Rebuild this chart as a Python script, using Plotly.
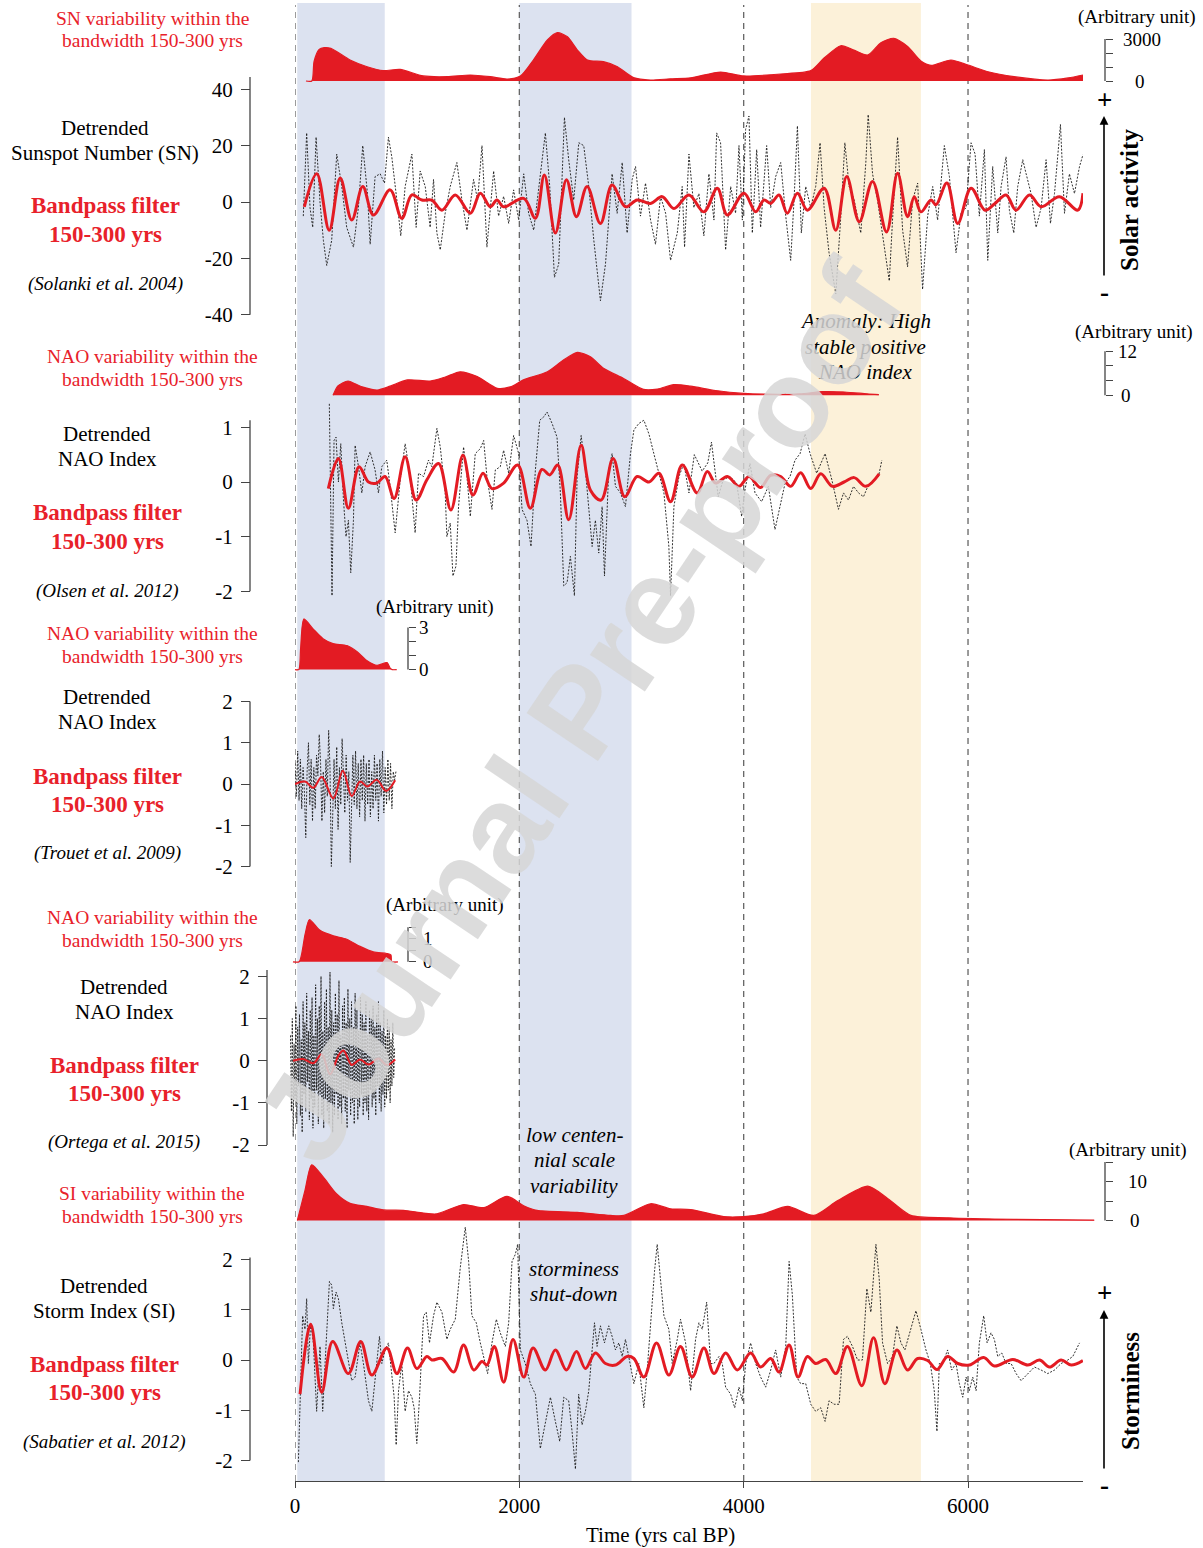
import plotly.graph_objects as go

# ---------------------------------------------------------------------------
# Data (years cal BP / values)
# ---------------------------------------------------------------------------

# Sunspot number: power within the 150-300 yr band (arbitrary units)
sn_var_years = [98, 150, 170, 215, 260, 320, 491, 643, 786, 937, 1143, 1357, 1563, 1741, 1893,
                2009, 2125, 2250, 2339, 2429, 2518, 2607, 2750, 2875, 3018, 3170, 3348, 3527,
                3795, 4000, 4330, 4598, 4714, 4866, 4982, 5107, 5223, 5339, 5464, 5580, 5670,
                5848, 6000, 6179, 6411, 6714, 6893, 7025]
sn_var = [0, 0, 1400, 2250, 2380, 2330, 1500, 1020, 740, 830, 360, 310, 430, 310, 140,
          360, 1500, 2930, 3450, 3160, 2210, 1500, 1380, 1020, 240, 70, 160, 230,
          640, 360, 500, 740, 1620, 2520, 2210, 1860, 2740, 3050, 2450, 1430, 1120,
          1500, 1140, 660, 310, 70, 220, 430]

# Detrended sunspot number (Solanki et al. 2004)
sn_years = [74, 104, 134, 158, 188, 223, 253, 283, 327, 372, 417, 461, 521, 565, 604, 646, 670,
            714, 759, 798, 833, 863, 908, 943, 982, 1042, 1080, 1116, 1161, 1205, 1235, 1265,
            1295, 1339, 1384, 1443, 1488, 1533, 1592, 1628, 1667, 1711, 1771, 1815, 1860, 1905,
            1949, 1994, 2039, 2083, 2128, 2173, 2232, 2271, 2313, 2351, 2402, 2440, 2485, 2530,
            2574, 2619, 2664, 2723, 2768, 2827, 2872, 2917, 2961, 3006, 3036, 3080, 3125, 3170,
            3214, 3259, 3304, 3348, 3408, 3452, 3473, 3512, 3556, 3601, 3645, 3690, 3735, 3759,
            3794, 3839, 3884, 3928, 3958, 3988, 4017, 4047, 4077, 4116, 4151, 4205, 4241, 4285,
            4330, 4375, 4419, 4449, 4479, 4514, 4553, 4598, 4642, 4681, 4717, 4761, 4821, 4866,
            4902, 4940, 4985, 5044, 5089, 5110, 5149, 5193, 5238, 5298, 5327, 5372, 5417, 5461,
            5506, 5551, 5595, 5640, 5685, 5729, 5789, 5834, 5893, 5938, 5983, 6027, 6063, 6101,
            6146, 6176, 6220, 6265, 6295, 6339, 6369, 6408, 6443, 6488, 6518, 6562, 6607, 6652,
            6696, 6735, 6771, 6824, 6860, 6904, 6949, 6994, 7025]
sn_values = [-5, 24.5, -2, -9, 23, 0, -13.6, -22.5, -13.6, 17, 5.5, -9, -16, -2, 20, 3, -15,
             9, 10, 6.7, 23, 16, 0.7, -12, 5.5, 17, -9, 11, 5.5, -9, 8, -11,
             -17, -4, 5.5, 14, 0.7, -10, 8, 0.7, 20, -16, 11, -5, 2, -7.6,
             4.3, -6.4, 10, -4, -10, 5.5, 24.5, 5.5, -26.7, -22, 30, 15, 0.7, 21,
             20, 5.5, -13.6, -35, -22, 10, -4, 14, -11, 8, 12.6, -5, 6.7, -6.4,
             -15, 2, -4, -20.7, -11, 5.5, -16, 17, -2, 3, -12, 10, -6.4, 24.5,
             21, -17, 5.5, -4, 20, -6.4, 25.7, 30.5, -11, 18.6, -9, 20, -2, 9,
             14, -5, -20.7, 0.7, 27, -11, 5.5, -2, 5.5, 21, -2, -18, -32.6, -5,
             21, 5.5, 0.7, -11, 14, 31, 10, 0.7, -12, -28, -6.4, 23, -10, -23,
             0.7, 6.7, -31, -5, 5.5, -6.4, 20, 9, -18, -4, -2, 21, 17, -5,
             18.6, -20.7, 12.6, -11, 5.5, 16, -3, -11, 5.5, 15, 10, 3, -9, -2,
             15, -7.6, 3, 27.5, -4, 10, 3, 12.6, 16.8]

# Sunspot number, 150-300 yr bandpass
sn_bp_years = [83, 194, 305, 403, 506, 604, 699, 848, 952, 1042, 1131, 1220, 1310, 1429, 1563,
               1652, 1741, 1800, 1860, 2039, 2143, 2223, 2321, 2420, 2509, 2604, 2723, 2827,
               2946, 3050, 3170, 3274, 3378, 3512, 3645, 3765, 3854, 4003, 4107, 4181, 4241,
               4315, 4389, 4479, 4568, 4717, 4821, 4919, 5030, 5149, 5274, 5372, 5461, 5521,
               5580, 5670, 5714, 5812, 5908, 6027, 6152, 6235, 6339, 6428, 6548, 6652, 6815,
               6979, 7025]
sn_bp = [-1.7, 10, -10, 8.5, -6.4, 5.5, -4.6, 4.3, -5.8, 2.5, 0.7, 0.7, -2.9, 2.5, -4,
         3.1, -1.7, 0.7, -1.7, 1.3, -5.8, 9.6, -11, 7.9, -5.2, 5.5, -7.6, 6,
         -1.7, 0.7, -0.5, 1.9, -2.3, 2.5, -3.5, 4.9, -4.6, 3.1, -3.5, 0.7, -0.5,
         2.5, -4, 3.1, -2.9, 4.9, -10, 9, -7, 7.3, -10.6, 10.2, -5.2, 1.9,
         -3.5, 0.7, -1, 6.7, -7.6, 4.9, -2.9, -0.7, 2.5, -2.9, 2.5, -1.7, 1.9,
         -2.9, 3.1]

# NAO (Olsen et al. 2012): band power, detrended index, bandpass
olsen_var_years = [339, 380, 420, 473, 598, 732, 848, 1000, 1205, 1340, 1473, 1625, 1804, 1920,
                   2036, 2250, 2393, 2518, 2634, 2750, 2929, 3107, 3232, 3375, 3527, 3750, 4000,
                   4200, 4500, 4700, 4900, 5100, 5205]
olsen_var = [0, 2.5, 3.3, 3.9, 2.3, 1.45, 2.5, 4.2, 3.9, 5.0, 6.4, 5.1, 1.9, 2.3,
             4.2, 6.4, 9.6, 11.7, 10.5, 7.4, 4.6, 1.6, 1.7, 2.9, 2.5, 1.3, 0.5,
             0.3, 0.4, 1.0, 0.9, 0.4, 0.2]

olsen_years = [306, 318, 330, 348, 366, 387, 408, 432, 455, 476, 497, 521, 536, 566, 596, 625,
               670, 714, 744, 774, 818, 848, 893, 938, 982, 1027, 1071, 1101, 1146, 1190, 1220,
               1265, 1295, 1339, 1354, 1384, 1408, 1435, 1458, 1503, 1533, 1563, 1607, 1652,
               1682, 1711, 1756, 1786, 1830, 1860, 1905, 1949, 1994, 2024, 2068, 2104, 2143,
               2182, 2217, 2247, 2292, 2336, 2366, 2396, 2426, 2455, 2491, 2515, 2551, 2589,
               2619, 2649, 2678, 2708, 2738, 2759, 2797, 2827, 2857, 2902, 2946, 2991, 3021,
               3065, 3110, 3155, 3199, 3244, 3289, 3333, 3348, 3378, 3423, 3467, 3512, 3560,
               3630, 3680, 3713, 3773, 3817, 3877, 3937, 3982, 4011, 4056, 4101, 4160, 4220,
               4279, 4324, 4369, 4413, 4458, 4503, 4547, 4592, 4651, 4726, 4786, 4845, 4890,
               4934, 4979, 5024, 5068, 5113, 5158, 5202, 5232]
olsen_values = [1.43, -0.7, -2.08, 0.76, 0.82, 0, 0.7, -0.33, -1.0, -0.7, -1.66, -0.7, 0.67,
                0.28, -0.2, 0.28, 0.55, 0.22, -0.2, 0.28, 0.4, -0.08, -0.93, 0.04, 0.7, 0.1,
                -0.93, 0.16, 0.1, 0.4, 0.28, 0.98, 0.64, -0.2, -1.0, -0.75, -1.72, -1.54,
                -0.45, 0.64, 0.1, -0.63, 0.52, 0.61, 0.76, 0.1, -0.5, 0.22, 0.28, 0.58, 0.16,
                0.85, 0.52, -0.5, -0.7, -1.18, 0.22, 1.13, 1.19, 1.28, 1.07, 0.82, -0.2, -1.9,
                -1.84, -1.36, -2.08, 0.1, 0.85, 0.22, -0.45, -1.18, -0.7, -1.3, -0.45, -1.72,
                0.22, 0.52, -0.08, -0.2, -0.45, 0.52, 0.95, 1.07, 1.13, 0.88, 0.52, 0.16, -0.2,
                -1.18, -2.08, -0.45, 0.1, 0.34, -0.2, 0.5, 0.2, 0.35, 0.73, -0.27, 0.04, 0.1,
                -0.02, -0.63, -0.15, 0.34, -0.2, -0.36, -0.08, -0.87, -0.45, -0.02, 0.1, 0.4,
                0.52, 0.88, 0.52, 0.16, 0.52, 0.04, -0.5, -0.2, -0.33, -0.08, -0.2, -0.27,
                -0.05, 0.04, 0.1, 0.4]

olsen_bp_years = [297, 387, 476, 571, 655, 729, 803, 884, 982, 1080, 1176, 1280, 1390, 1497,
                  1586, 1676, 1756, 1860, 1985, 2098, 2202, 2271, 2342, 2440, 2551, 2634, 2729,
                  2836, 2940, 3050, 3155, 3244, 3348, 3452, 3586, 3676, 3750, 3854, 3958, 4047,
                  4150, 4240, 4330, 4419, 4508, 4598, 4687, 4791, 4895, 4985, 5089, 5208]
olsen_bp = [-0.12, 0.43, -0.48, 0.28, 0, -0.02, 0.1, -0.3, 0.46, -0.33, 0.04, 0.34, -0.51, 0.49,
            -0.24, 0.16, -0.12, -0.02, 0.31, -0.48, 0.23, 0.13, 0.31, -0.69, 0.67, -0.15, -0.33,
            0.43, -0.27, 0.1, 0, 0.16, -0.36, 0.31, -0.2, 0.19, -0.02, 0.1, -0.08, 0.1,
            -0.1, 0.12, 0.1, -0.08, 0.17, -0.12, 0.15, -0.08, 0, 0.08, -0.08, 0.15]

# NAO (Trouet et al. 2009): band power, detrended index (12-yr steps from 0 BP), bandpass
trouet_var_years = [0, 34, 50, 79, 161, 250, 339, 464, 554, 643, 732, 821, 848, 866, 907]
trouet_var = [0, 0, 1.5, 3.6, 2.9, 2.2, 1.85, 1.7, 1.27, 0.63, 0.3, 0.5, 0.1, 0, 0]

trouet_start, trouet_step = 0, 12
trouet_values = [0.5, -0.3, 0.8, -0.4, 0.6, -0.6, 0.4, -0.2, -1.3, 0.3,
                 1.0, -0.5, 0.6, -0.9, 0.4, -0.6, 0.7, 0.2, 1.2, 0.5,
                 -0.9, 0.3, -0.7, 0.6, -0.3, 1.3, 0.4, -2.0, -0.8, 0.6,
                 -0.6, 0.9, -1.1, 0.4, -0.5, 1.1, 0.2, -0.7, 0.7, -0.4,
                 0.3, -1.9, -0.6, 0.7, -0.5, 0.8, -0.6, 0.5, -0.8, 0.6,
                 -0.4, 0.7, -0.9, 0.5, -0.5, 0.6, -0.8, 0.3, -0.6, 0.7,
                 -0.4, 0.5, -0.9, 0.6, -0.3, 0.8, -0.7, 0.4, -0.5, 0.6,
                 -0.4, 0.5, -0.6, 0.3, 0.1, 0.3]

trouet_bp_years = [0, 89, 164, 238, 342, 426, 506, 580, 646, 729, 812, 893]
trouet_bp = [0, 0.06, -0.09, 0.17, -0.35, 0.32, -0.29, 0.06, -0.06, 0.1, -0.17, 0.09]

# NAO (Ortega et al. 2015): band power, detrended index (8-yr steps from -40 BP), bandpass
ortega_var_years = [-18, 37, 90, 128, 223, 342, 461, 580, 699, 818, 855, 863, 918]
ortega_var = [0, 0, 1.2, 1.83, 1.37, 1.13, 0.98, 0.67, 0.43, 0.36, 0.3, 0, 0]

ortega_start, ortega_step = -40, 8
ortega_values = [0.6, -1.2, 1.0, -1.8, 0.4, -0.9, 1.3, -1.5, 0.8, -0.6,
                 1.1, -1.3, 0.5, -1.7, 1.4, -0.8, 0.9, -1.2, 1.6, -0.5,
                 0.7, -1.4, 1.2, -0.9, 1.5, -1.6, 0.6, -1.1, 1.8, -0.7,
                 1.0, -1.5, 1.3, -0.8, 2.0, -1.3, 0.7, -1.6, 1.4, -0.9,
                 1.7, -1.2, 0.8, -1.5, 2.1, -1.0, 1.2, -1.7, 0.9, -1.3,
                 1.6, -0.8, 1.1, -1.4, 1.9, -1.1, 0.6, -1.5, 1.3, -0.9,
                 1.5, -1.2, 0.9, -1.6, 1.7, -0.7, 1.0, -1.3, 1.4, -1.0,
                 0.8, -1.5, 1.6, -0.9, 1.2, -1.4, 0.7, -1.1, 1.5, -0.8,
                 1.1, -1.3, 0.9, -1.0, 1.4, -1.2, 0.6, -1.4, 1.2, -0.7,
                 1.0, -1.1, 1.3, -0.9, 0.8, -1.3, 1.1, -0.6, 1.4, -1.0,
                 0.9, -1.2, 0.7, -0.8, 1.2, -1.1, 0.6, -0.9, 1.0, -0.7,
                 0.8, -1.0, 0.5, -0.6, 0.9, -0.4, 0.3]

ortega_bp_years = [-18, 71, 164, 238, 313, 387, 432, 506, 580, 655, 744, 818, 893]
ortega_bp = [0, 0.04, -0.06, 0.15, -0.32, 0.12, 0.24, -0.1, 0.03, -0.09, 0.05, -0.1, 0.03]

# Storm index (Sabatier et al. 2012): band power, detrended index, bandpass
si_var_years = [21, 89, 149, 253, 372, 491, 640, 789, 967, 1146, 1265, 1503, 1682, 1890, 2039,
                2158, 2515, 2812, 2932, 3170, 3348, 3527, 3822, 4000, 4179, 4393, 4625, 4839,
                5107, 5286, 5491, 5821, 6411, 7125]
si_var = [0, 7.7, 14.3, 11.1, 6.8, 4.4, 3.6, 2.7, 2.6, 1.9, 1.7, 4.1, 3.3, 6.2, 3.8,
          2.6, 2.1, 1.3, 1.3, 4.3, 3.0, 2.8, 1.0, 1.0, 1.7, 3.6, 1.3, 5.1,
          8.8, 5.6, 1.3, 0.7, 0.3, 0.1]

si_years = [30, 51, 68, 89, 104, 119, 140, 164, 193, 223, 247, 268, 289, 307, 327, 342, 366, 387,
            417, 446, 476, 506, 536, 580, 610, 655, 685, 714, 753, 774, 804, 833, 863, 884, 902,
            923, 952, 982, 1012, 1042, 1062, 1086, 1110, 1146, 1170, 1199, 1235, 1265, 1310,
            1354, 1384, 1429, 1473, 1518, 1548, 1577, 1616, 1652, 1696, 1717, 1756, 1795, 1830,
            1875, 1905, 1935, 1964, 1985, 2009, 2053, 2098, 2143, 2187, 2232, 2277, 2321, 2360,
            2396, 2440, 2470, 2500, 2529, 2559, 2589, 2619, 2649, 2670, 2693, 2723, 2759, 2797,
            2827, 2857, 2887, 2917, 2946, 2985, 3021, 3065, 3110, 3140, 3170, 3205, 3229, 3259,
            3289, 3333, 3363, 3408, 3437, 3482, 3527, 3571, 3601, 3631, 3670, 3705, 3735, 3780,
            3809, 3839, 3884, 3920, 3958, 3988, 4018, 4062, 4107, 4151, 4196, 4241, 4285, 4330,
            4375, 4405, 4434, 4473, 4508, 4553, 4598, 4642, 4687, 4726, 4761, 4806, 4851, 4890,
            4925, 4970, 5015, 5059, 5098, 5134, 5158, 5179, 5208, 5238, 5283, 5327, 5366, 5402,
            5437, 5491, 5536, 5580, 5625, 5664, 5699, 5723, 5744, 5774, 5818, 5854, 5893, 5923,
            5953, 5983, 6012, 6042, 6072, 6101, 6140, 6170, 6205, 6235, 6265, 6301, 6339, 6384,
            6429, 6473, 6533, 6592, 6652, 6711, 6771, 6830, 6890, 6934, 6994]
si_values = [-2.03, -0.61, 0.88, 0.61, 1.22, -0.07, 0.74, 0.34, -1.02, 0.27, -1.02, -0.07, 0.81,
             1.56, 1.49, 1.02, 1.35, 1.22, 0.74, 0.34, -0.07, -0.41, -0.34, 0.34, -0.07, -0.81,
             -1.02, -0.34, 0.47, -0.07, 0.2, 0.34, -0.34, -0.74, -1.69, -0.61, -0.07, -1.02,
             -0.61, -0.74, -0.95, -1.66, -0.74, 0.88, 0.95, 0.34, 0.88, 1.15, 0.95, 0.41, 0.61,
             0.81, 1.83, 2.64, 1.96, 0.88, 0.74, 0.34, -0.07, -0.27, 0.34, 0.81, 0.54, 0.27,
             0.74, 1.96, 2.1, 2.3, 0.2, -0.07, -0.47, -0.68, -1.76, -1.22, -0.74, -1.22, -1.62,
             -0.74, -0.81, -1.42, -2.17, -0.68, -1.29, -1.02, -0.61, 0.2, 0.74, 0.27, 0.68,
             0.34, 0.68, 0.47, 0.2, 0.34, 0.07, 0.41, -0.07, -0.47, -0.07, -0.95, -0.2, 0.74,
             1.76, 2.3, 1.62, 0.88, 0.61, -0.07, 0.41, 0.81, 0.34, -0.61, 0.41, 0.74, 0.61,
             1.15, -0.07, -0.07, 0.07, -0.07, -0.54, -0.68, -0.95, -0.54, -0.81, -0.07, 0.34,
             -0.07, -0.34, -0.54, -0.2, 0.2, -0.34, 0.27, 1.96, 1.29, -0.34, -0.47, -0.47,
             -0.88, -1.02, -0.95, -1.22, -0.81, -0.88, -0.88, 0.41, 0.47, 0.27, 0, 0, 1.42,
             0.95, 1.62, 2.3, 1.62, 0.34, -0.07, 0.07, 0.68, 0.34, 0.2, 0.61, 0.98, 0.61, 0.2,
             -0.07, -0.61, -1.42, -0.07, -0.07, 0.2, -0.2, -0.07, -0.47, -0.74, -0.34, -0.61,
             -0.34, -0.61, 0.34, 0.88, 0.34, 0.54, 0.41, 0.07, 0.14, -0.07, -0.07, -0.27, -0.41,
             -0.27, -0.14, -0.2, -0.27, -0.2, -0.07, 0, 0.07, 0.34]

si_bp_years = [45, 140, 238, 336, 476, 586, 685, 819, 908, 1003, 1086, 1176, 1220, 1310, 1414,
               1503, 1593, 1667, 1711, 1777, 1860, 1944, 2039, 2122, 2232, 2321, 2420, 2509,
               2589, 2678, 2768, 2857, 2961, 3021, 3110, 3223, 3333, 3437, 3541, 3646, 3735,
               3839, 3943, 4062, 4151, 4241, 4315, 4405, 4485, 4568, 4642, 4731, 4821, 4925,
               5053, 5158, 5259, 5366, 5461, 5551, 5640, 5723, 5818, 5908, 6012, 6140, 6235,
               6399, 6533, 6637, 6726, 6830, 6920, 7024]
si_bp = [-0.68, 0.71, -0.64, 0.37, -0.27, 0.37, -0.3, 0.24, -0.27, 0.24, -0.17, 0.07, 0, 0.03,
         -0.24, 0.3, -0.2, -0.03, -0.1, 0.27, -0.44, 0.41, -0.34, 0.24, -0.2, 0.2, -0.2, 0.17,
         -0.17, 0.14, -0.07, -0.1, 0.07, 0.03, -0.34, 0.34, -0.3, 0.27, -0.34, 0.24, -0.27,
         0.14, -0.2, 0.14, -0.14, 0.03, -0.24, 0.3, -0.34, 0.07, -0.07, 0.01, -0.27, 0.27,
         -0.51, 0.44, -0.47, 0.2, -0.2, 0.03, -0.01, -0.19, 0.07, -0.07, -0.1, 0.05, -0.12,
         0.01, -0.1, 0, -0.14, 0, -0.1, -0.01]

# Highlighted intervals and reference lines (years BP)
blue_bands = [(20, 800), (2000, 3000)]
yellow_bands = [(4600, 5580)]
guide_years = [0, 2000, 4000, 6000]
x_ticks = [0, 2000, 4000, 6000]

for a, b in [(sn_var_years, sn_var), (sn_years, sn_values), (sn_bp_years, sn_bp),
             (olsen_var_years, olsen_var), (olsen_years, olsen_values), (olsen_bp_years, olsen_bp),
             (trouet_var_years, trouet_var), (trouet_bp_years, trouet_bp),
             (ortega_var_years, ortega_var), (ortega_bp_years, ortega_bp),
             (si_var_years, si_var), (si_years, si_values), (si_bp_years, si_bp)]:
    assert len(a) == len(b), (len(a), len(b))

# ---------------------------------------------------------------------------
# Figure geometry (page pixels)
# ---------------------------------------------------------------------------
W, H = 1203, 1548
SERIF = "Liberation Serif"
RED = "#E31B23"
TXT_RED = "#E8212A"
AX = "#444444"
X0_PX, PX_PER_YR = 295.0, 0.11217


def fx(p):
    return p / W


def fy(p):
    return 1 - p / H


def yr(p):
    return (p - X0_PX) / PX_PER_YR


def y_axis(zero, ppu, top, bottom, pos, side="left", tickvals=None, ticktext=None,
           ticklen=9, labels=True):
    return dict(domain=[fy(bottom), fy(top)],
                range=[(zero - bottom) / ppu, (zero - top) / ppu],
                anchor="free", position=fx(pos), side=side, automargin=False,
                showline=False, showgrid=False, zeroline=False,
                ticks="outside", ticklen=ticklen, tickwidth=1.2, tickcolor=AX,
                tickmode="array", tickvals=tickvals, ticktext=ticktext,
                showticklabels=labels, ticklabelstandoff=4,
                tickfont=dict(family=SERIF, size=21, color="black"),
                fixedrange=True)


fig = go.Figure()


def band_power(xs, ys, yax, xax="x"):
    fig.add_trace(go.Scatter(x=xs, y=ys, xaxis=xax, yaxis=yax, mode="lines",
                             fill="tozeroy", fillcolor=RED,
                             line=dict(color=RED, width=1.2, shape="spline", smoothing=0.7),
                             hoverinfo="skip", showlegend=False))


def raw(xs, ys, yax, xax="x", x0=None, dx=None):
    kw = dict(x=xs) if xs is not None else dict(x0=x0, dx=dx)
    fig.add_trace(go.Scatter(y=ys, xaxis=xax, yaxis=yax, mode="lines",
                             line=dict(color="#1a1a1a", width=0.9, dash="2px,1.5px"),
                             hoverinfo="skip", showlegend=False, **kw))


def bandpass(xs, ys, yax, xax="x", width=3):
    fig.add_trace(go.Scatter(x=xs, y=ys, xaxis=xax, yaxis=yax, mode="lines",
                             line=dict(color=RED, width=width, shape="spline", smoothing=1.0),
                             hoverinfo="skip", showlegend=False))


# Sunspot number
band_power(sn_var_years, sn_var, "y")
raw(sn_years, sn_values, "y2")
bandpass(sn_bp_years, sn_bp, "y2")
# NAO, Olsen
band_power(olsen_var_years, olsen_var, "y3")
raw(olsen_years, olsen_values, "y4")
bandpass(olsen_bp_years, olsen_bp, "y4")
# NAO, Trouet
band_power(trouet_var_years, trouet_var, "y5")
raw(None, trouet_values, "y6", x0=trouet_start, dx=trouet_step)
bandpass(trouet_bp_years, trouet_bp, "y6", width=2)
# NAO, Ortega
band_power(ortega_var_years, ortega_var, "y7", xax="x2")
raw(None, ortega_values, "y8", xax="x2", x0=ortega_start, dx=ortega_step)
bandpass(ortega_bp_years, ortega_bp, "y8", xax="x2", width=2)
# Storm index
band_power(si_var_years, si_var, "y9", xax="x2")
raw(si_years, si_values, "y10")
bandpass(si_bp_years, si_bp, "y10")

layout = dict(
    template="none",
    width=W, height=H, margin=dict(l=0, r=0, t=0, b=0, pad=0, autoexpand=False),
    paper_bgcolor="white", plot_bgcolor="rgba(0,0,0,0)", showlegend=False,
    xaxis=dict(domain=[fx(295), fx(1083)], range=[0, yr(1083)], anchor="free",
               position=fy(1481), showline=True, linecolor=AX, linewidth=1.3,
               automargin=False, showgrid=False, zeroline=False, ticks="outside", ticklen=6,
               tickcolor=AX, tickmode="array", tickvals=x_ticks,
               ticktext=[str(v) for v in x_ticks],
               tickfont=dict(family=SERIF, size=21, color="black"), fixedrange=True),
    xaxis2=dict(domain=[fx(285), fx(1095)], range=[yr(285), yr(1095)], anchor="free",
                position=fy(1481), visible=False, automargin=False, fixedrange=True),
    # band-power panels (scale bars sit on the right / beside the short records)
    yaxis=y_axis(81, 0.014, 3, 86, 1105, side="right", tickvals=[0, 1000, 2000, 3000],
                 ticklen=7, labels=False),
    yaxis3=y_axis(395.3, 3.667, 330, 400, 1105, side="right", tickvals=[0, 4, 8, 12],
                  ticklen=7, labels=False),
    yaxis5=y_axis(669.6, 14.07, 605, 674, 408, side="right", tickvals=[0, 1, 2, 3],
                  ticklen=7, labels=False),
    yaxis7=y_axis(961.8, 23.0, 905, 966, 408, side="right", tickvals=[0, 0.5, 1, 1.5],
                  ticklen=7, labels=False),
    yaxis9=y_axis(1220.5, 3.9, 1145, 1225, 1105, side="right", tickvals=[0, 5, 10, 15],
                  ticklen=7, labels=False),
    # detrended records
    yaxis2=y_axis(202, 2.82, 70, 320, 250, tickvals=[-40, -20, 0, 20, 40],
                  ticktext=["-40", "-20", "0", "20", "40"]),
    yaxis4=y_axis(482, 54.67, 395, 602, 250, tickvals=[-2, -1, 0, 1],
                  ticktext=["-2", "-1", "0", "1"]),
    yaxis6=y_axis(784, 41.25, 690, 878, 250, tickvals=[-2, -1, 0, 1, 2],
                  ticktext=["-2", "-1", "0", "1", "2"]),
    yaxis8=y_axis(1060.7, 42.2, 960, 1155, 267, tickvals=[-2, -1, 0, 1, 2],
                  ticktext=["-2", "-1", "0", "1", "2"]),
    yaxis10=y_axis(1360, 50.3, 1220, 1475, 250, tickvals=[-2, -1, 0, 1, 2],
                   ticktext=["-2", "-1", "0", "1", "2"]),
)
fig.update_layout(**layout)

shapes = []
for a, b in blue_bands:
    shapes.append(dict(type="rect", xref="x", yref="paper", x0=a, x1=b, y0=fy(1481), y1=fy(3),
                       fillcolor="#DCE2F0", line=dict(width=0), layer="below"))
for a, b in yellow_bands:
    shapes.append(dict(type="rect", xref="x", yref="paper", x0=a, x1=b, y0=fy(1481), y1=fy(3),
                       fillcolor="#FCF1D9", line=dict(width=0), layer="below"))
for g in guide_years:
    shapes.append(dict(type="line", xref="x", yref="paper", x0=g, x1=g, y0=fy(1481), y1=fy(5),
                       line=dict(color="#666666", width=1.3, dash="6px,5px"), layer="below"))

# vertical axis lines for each panel (drawn in data units of the panel)
for yref, pos, lo, hi in [("y2", 250, -40, 44.3), ("y4", 250, -2, 1.13), ("y6", 250, -2, 2),
                          ("y8", 267, -2, 2.15), ("y10", 250, -2, 2.04),
                          ("y", 1105, 0, 3000), ("y3", 1105, 0, 12), ("y5", 408, 0, 3),
                          ("y7", 408, 0, 1.5), ("y9", 1105, 0, 15)]:
    shapes.append(dict(type="line", xref="paper", yref=yref, x0=fx(pos), x1=fx(pos),
                       y0=lo, y1=hi, line=dict(color=AX, width=1.3)))
fig.update_layout(shapes=shapes)

ann = []


def text(x, y, s, size=19, color="black", angle=0, family=SERIF, yref="paper"):
    ann.append(dict(x=fx(x), y=fy(y) if yref == "paper" else y, xref="paper", yref=yref,
                    text=s, showarrow=False, xanchor="center", yanchor="middle",
                    textangle=angle, font=dict(family=family, size=size, color=color)))


# left-hand panel descriptions
blocks = [
    ("SN variability within the", 18, "Detrended", "Sunspot Number (SN)", 128, 105,
     "(Solanki et al. 2004)", 284, 206),
    ("NAO variability within the", 356, "Detrended", "NAO Index", 434, 107,
     "(Olsen et al. 2012)", 591, 513),
    ("NAO variability within the", 633, "Detrended", "NAO Index", 697, 107,
     "(Trouet et al. 2009)", 853, 776),
    ("NAO variability within the", 917, "Detrended", "NAO Index", 987, 124,
     "(Ortega et al. 2015)", 1142, 1065),
    ("SI variability within the", 1193, "Detrended", "Storm Index (SI)", 1286, 104,
     "(Sabatier et al. 2012)", 1442, 1364),
]
for head, hy, d1, d2, dy, cx, ref, ry, by in blocks:
    text(152, hy, head, 19.5, TXT_RED)
    text(152, hy + 23, "bandwidth 150-300 yrs", 19.5, TXT_RED)
    text(cx, dy, d1, 21)
    text(cx, dy + 25, d2, 21)
    text(cx, by, "<b>Bandpass filter</b>", 23, TXT_RED)
    text(cx, by + 28, "<b>150-300 yrs</b>", 23, TXT_RED)
    text(cx, ry, "<i>" + ref + "</i>", 19)

# unit captions and scale labels of the band-power panels
text(1137, 17, "(Arbitrary unit)")
text(1142, 3000, "3000", yref="y")
text(1140, 0, "0", yref="y")
text(1134, 332, "(Arbitrary unit)")
text(1127, 12, "12", yref="y3")
text(1126, 0, "0", yref="y3")
text(435, 607, "(Arbitrary unit)")
text(424, 3, "3", yref="y5")
text(424, 0, "0", yref="y5")
text(445, 905, "(Arbitrary unit)")
text(428, 1, "1", yref="y7")
text(428, 0, "0", yref="y7")
text(1128, 1150, "(Arbitrary unit)")
text(1137, 10, "10", yref="y9")
text(1135, 0, "0", yref="y9")

# direction arrows
text(1104, 100, "<b>+</b>", 27)
text(1104, 292, "<b>-</b>", 27)
text(1130, 200, "<b>Solar activity</b>", 25, angle=-90)
text(1104, 1293, "<b>+</b>", 27)
text(1104, 1485, "<b>-</b>", 27)
text(1130, 1391, "<b>Storminess</b>", 25, angle=-90)
for head, tail in [(116, 277), (1310, 1470)]:
    ann.append(dict(x=fx(1104), y=fy(head), xref="paper", yref="paper", text="",
                    showarrow=True, ax=0, ay=tail - head, arrowhead=2, arrowsize=1.1,
                    arrowwidth=1.6, arrowcolor="black"))

# interpretive notes
for s, y in [("Anomaly: High", 321), ("stable positive", 347), ("NAO index", 372)]:
    text(865, y, "<i>" + s + "</i>", 21)
for s, y in [("low centen-", 1135), ("nial scale", 1160), ("variability", 1186)]:
    text(574, y, "<i>" + s + "</i>", 21)
for s, y in [("storminess", 1269), ("shut-down", 1294)]:
    text(574, y, "<i>" + s + "</i>", 21)

# x-axis title
text(660, 1535, "Time (yrs cal BP)", 21)

# journal watermark
text(578, 712, "<b>Journal Pre-proof</b>", 125, color="rgba(214,214,214,0.85)", angle=-56,
     family="Liberation Sans")

fig.update_layout(annotations=ann)
fig.write_html("out.html")
